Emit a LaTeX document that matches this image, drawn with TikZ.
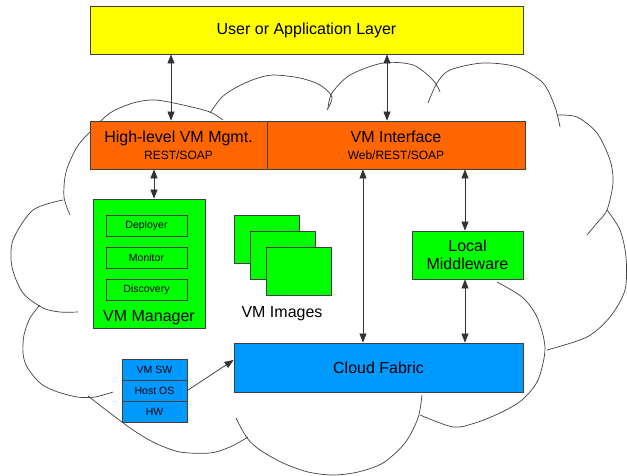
\documentclass[tikz,border=0pt]{standalone}
\usepackage{fontspec}
\setmainfont{Liberation Sans}
\usetikzlibrary{arrows.meta}
\definecolor{cyel}{HTML}{FFFF00}
\definecolor{corg}{HTML}{FF6600}
\definecolor{cgrn}{HTML}{00FF00}
\definecolor{cblu}{HTML}{0099FF}
\tikzset{
  box/.style={draw=black!75, line width=0.8pt, inner sep=0pt, font=\fontsize{16}{19}\selectfont},
  smallbox/.style={draw=black!75, line width=0.7pt, inner sep=0pt, font=\fontsize{10.5}{12}\selectfont},
  bigtext/.style={inner sep=0pt, font=\fontsize{16}{19}\selectfont},
  conn/.style={draw=black!80, line width=0.7pt, {Triangle[length=9pt,width=7pt]}-{Triangle[length=9pt,width=7pt]}},
  oneway/.style={draw=black!80, line width=0.7pt, -{Triangle[length=9pt,width=7pt]}},
  cloudline/.style={draw=black!75, line width=0.7pt},
}
\begin{document}
\begin{tikzpicture}[x=1pt, y=-1pt]
\useasboundingbox (0,0) rectangle (627,476);
% cloud outline
\draw[cloudline] plot[smooth] coordinates {(70,215) (64,197) (66,172) (77,147) (92,130) (110,113) (133,103) (155,100) (183,105) (210,112) (223,120)};
\draw[cloudline] plot[smooth] coordinates {(210,113) (222,97) (237,87) (255,79) (273,75) (300,78) (320,85) (332,97) (327,110)};
\draw[cloudline] plot[smooth] coordinates {(328,108) (332,93) (350,75) (383,63) (413,65) (433,80) (440,92)};
\draw[cloudline] plot[smooth] coordinates {(428,103) (437,83) (450,70) (483,63) (517,67) (543,83) (555,107) (560,127)};
\draw[cloudline] plot[smooth] coordinates {(557,115) (577,117) (597,133) (610,160) (613,183) (607,210) (597,223) (587,235)};
\draw[cloudline] plot[smooth] coordinates {(607,210) (620,230) (626,257) (625,290) (610,317) (587,337) (547,350)};
\draw[cloudline] plot[smooth] coordinates {(497,282) (522,297) (537,317) (545,348) (538,380) (522,400) (500,413) (475,423) (453,427) (420,415)};
\draw[cloudline] plot[smooth] coordinates {(422,395) (418,418) (405,443) (383,463) (358,472) (333,475) (308,472) (283,463) (260,450) (247,438) (236,418)};
\draw[cloudline] plot[smooth] coordinates {(248,437) (230,447) (210,453) (180,452) (155,443) (133,430) (110,413) (88,396)};
\draw[cloudline] plot[smooth] coordinates {(113,392) (95,397) (77,397) (55,391) (40,383) (27,367) (23,353) (24,335) (30,318) (40,305)};
\draw[cloudline] plot[smooth] coordinates {(78,312) (60,312) (43,308) (23,293) (12,267) (13,240) (33,210) (63,200)};

% boxes
\node[box, fill=cyel, minimum width=433pt, minimum height=48pt] (ual) at (306.5,30) {User or Application Layer};
\node[box, fill=corg, minimum width=177pt, minimum height=48pt, align=center] (hvm) at (178.5,145)
  {High-level VM Mgmt.\\[-2pt]{\fontsize{12}{14}\selectfont REST/SOAP}};
\node[box, fill=corg, minimum width=258pt, minimum height=48pt, align=center] (vmi) at (396,145)
  {VM Interface\\[-2pt]{\fontsize{12}{14}\selectfont Web/REST/SOAP}};

\node[box, fill=cgrn, minimum width=112pt, minimum height=129pt] (vmm) at (149,263.5) {};
\node[smallbox, fill=cgrn, minimum width=81pt, minimum height=21pt] (dep) at (146.5,225.5) {Deployer};
\node[smallbox, fill=cgrn, minimum width=81pt, minimum height=21pt] (mon) at (146.5,257.5) {Monitor};
\node[smallbox, fill=cgrn, minimum width=81pt, minimum height=21pt] (dis) at (146.5,289.5) {Discovery};
\node[bigtext] (vmmT) at (149,318) {VM Manager};

\node[box, fill=cgrn, minimum width=65pt, minimum height=48pt] (img1) at (266.5,239) {};
\node[box, fill=cgrn, minimum width=65pt, minimum height=48pt] (img2) at (283,255) {};
\node[box, fill=cgrn, minimum width=65pt, minimum height=48pt] (img3) at (299,271) {};
\node[bigtext] (imgT) at (282,314) {VM Images};

\node[box, fill=cgrn, minimum width=111pt, minimum height=48pt, align=center] (lm) at (467.5,255)
  {Local\\[-1pt]Middleware};

\node[box, fill=cblu, minimum width=289pt, minimum height=49pt] (cf) at (378.5,367.5) {Cloud Fabric};

\node[smallbox, fill=cblu, minimum width=65pt, minimum height=21pt] (vsw) at (154.5,369.5) {VM SW};
\node[smallbox, fill=cblu, minimum width=65pt, minimum height=21pt] (hos) at (154.5,390.5) {Host OS};
\node[smallbox, fill=cblu, minimum width=65pt, minimum height=21pt] (hw) at (154.5,411.5) {HW};

% connectors
\coordinate (a1) at (171,0);
\coordinate (a2) at (387,0);
\coordinate (a3) at (154,0);
\coordinate (a4) at (363,0);
\coordinate (a5) at (465,0);
\coordinate (t1) at (0,360);
\draw[conn] (ual.south -| a1) -- (hvm.north -| a1);
\draw[conn] (ual.south -| a2) -- (vmi.north -| a2);
\draw[conn] (hvm.south -| a3) -- (vmm.north -| a3);
\draw[conn] (vmi.south -| a4) -- (cf.north -| a4);
\draw[conn] (vmi.south -| a5) -- (lm.north -| a5);
\draw[conn] (lm.south -| a5) -- (cf.north -| a5);
\draw[oneway] (hos.east) -- (cf.west |- t1);
\end{tikzpicture}
\end{document}
